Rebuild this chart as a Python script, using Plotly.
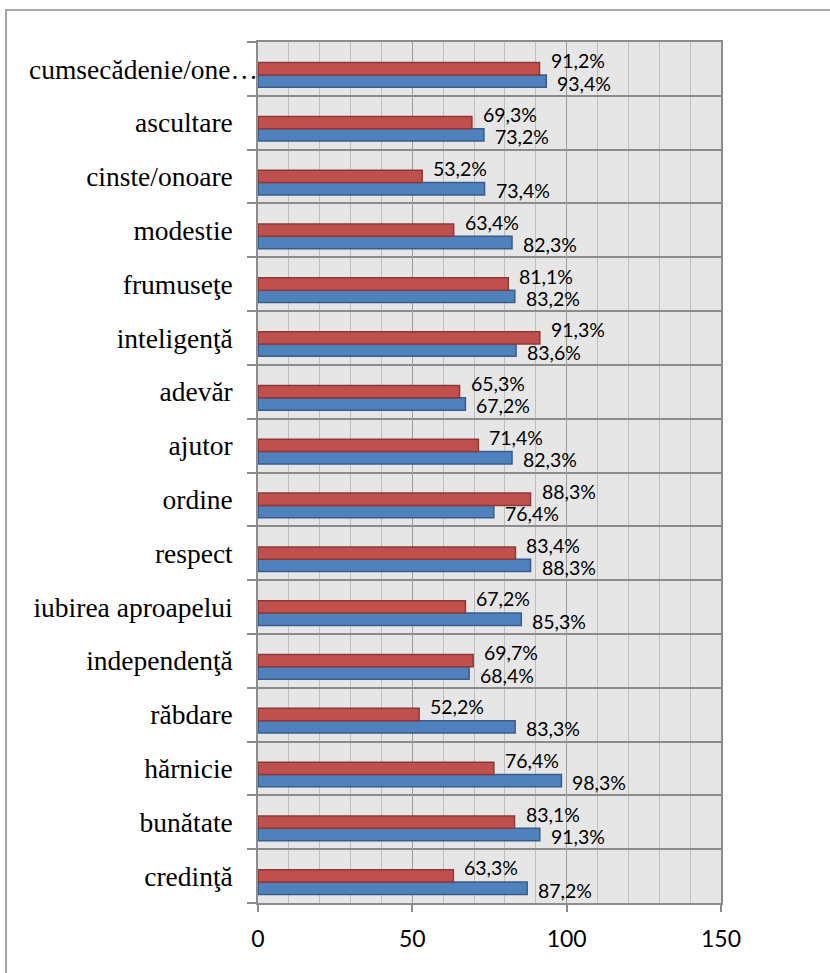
import plotly.graph_objects as go

# Categories listed bottom to top
categories = [
    "credinţă", "bunătate", "hărnicie", "răbdare", "independenţă",
    "iubirea aproapelui", "respect", "ordine", "ajutor", "adevăr",
    "inteligenţă", "frumuseţe", "modestie", "cinste/onoare", "ascultare",
    "cumsecădenie/one…",
]
red_values = [63.3, 83.1, 76.4, 52.2, 69.7, 67.2, 83.4, 88.3, 71.4, 65.3,
              91.3, 81.1, 63.4, 53.2, 69.3, 91.2]
blue_values = [87.2, 91.3, 98.3, 83.3, 68.4, 85.3, 88.3, 76.4, 82.3, 67.2,
               83.6, 83.2, 82.3, 73.4, 73.2, 93.4]
x_ticks = [0, 50, 100, 150]

positions = list(range(len(categories)))

BAR_W = 0.229
RED_OFF = -0.112
BLUE_OFF = RED_OFF - BAR_W

fig = go.Figure()
fig.add_trace(go.Bar(
    y=positions, x=blue_values, orientation="h",
    width=BAR_W, offset=BLUE_OFF,
    marker=dict(color="#4f81bd", line=dict(color="#385d8a", width=1.5)),
    showlegend=False, hoverinfo="skip",
))
fig.add_trace(go.Bar(
    y=positions, x=red_values, orientation="h",
    width=BAR_W, offset=RED_OFF,
    marker=dict(color="#c0504d", line=dict(color="#8c3836", width=1.5)),
    showlegend=False, hoverinfo="skip",
))

label_font = dict(family="Lato", size=19.5, color="#000000")
cat_font = dict(family="Liberation Serif", size=27.5, color="#000000")
annotations = []
for p, rv, bv in zip(positions, red_values, blue_values):
    annotations.append(dict(
        x=rv, y=p + RED_OFF + BAR_W / 2, xref="x", yref="y",
        text=f"{rv:.1f}%".replace(".", ","), showarrow=False,
        xanchor="left", yanchor="middle", xshift=9, yshift=8,
        font=label_font,
    ))
    annotations.append(dict(
        x=bv, y=p + BLUE_OFF + BAR_W / 2, xref="x", yref="y",
        text=f"{bv:.1f}%".replace(".", ","), showarrow=False,
        xanchor="left", yanchor="middle", xshift=9, yshift=-2,
        font=label_font,
    ))

# The long top label is drawn separately so it can run up to the axis
annotations.append(dict(
    x=0, y=positions[-1], xref="paper", yref="y",
    text=categories[-1], showarrow=False,
    xanchor="right", yanchor="middle", xshift=2, yshift=-1,
    font=cat_font,
))
tick_text = categories[:-1] + [""]

fig.update_layout(
    width=830, height=973,
    margin=dict(l=257.5, r=108.5, t=42, b=70),
    paper_bgcolor="#ffffff",
    plot_bgcolor="#e6e6e6",
    barmode="overlay",
    annotations=annotations,
    shapes=[dict(
        type="rect", xref="paper", yref="paper",
        x0=-0.5442, x1=1.2446, y0=-0.0894, y1=1.0372,
        line=dict(color="#a6a6a6", width=2), fillcolor="rgba(0,0,0,0)",
        layer="below",
    )],
    xaxis=dict(
        range=[0, 150], tickvals=x_ticks, ticktext=[str(v) for v in x_ticks],
        ticks="outside", ticklen=7, tickcolor="#8c8c8c", tickwidth=1.5,
        showgrid=True, gridcolor="#9a9a9a", gridwidth=1.3,
        minor=dict(dtick=10, showgrid=True, gridcolor="#bdbdbd", gridwidth=1.3),
        showline=True, linecolor="#8c8c8c", linewidth=1.5, mirror=True,
        zeroline=False,
        tickfont=dict(family="Lato", size=23, color="#000000"),
        ticklabelstandoff=8,
    ),
    yaxis=dict(
        range=[-0.5, len(categories) - 0.5],
        tickvals=positions, ticktext=tick_text,
        ticks="", showgrid=False, zeroline=False,
        minor=dict(
            tickvals=[p - 0.5 for p in positions] + [positions[-1] + 0.5],
            ticks="outside", ticklen=9, tickcolor="#8c8c8c", tickwidth=1.5,
            showgrid=True, gridcolor="#8c8c8c", gridwidth=1.5,
        ),
        showline=True, linecolor="#8c8c8c", linewidth=1.5, mirror=True,
        tickfont=cat_font,
        ticklabelstandoff=18,
    ),
)

fig.write_html("out.html")
